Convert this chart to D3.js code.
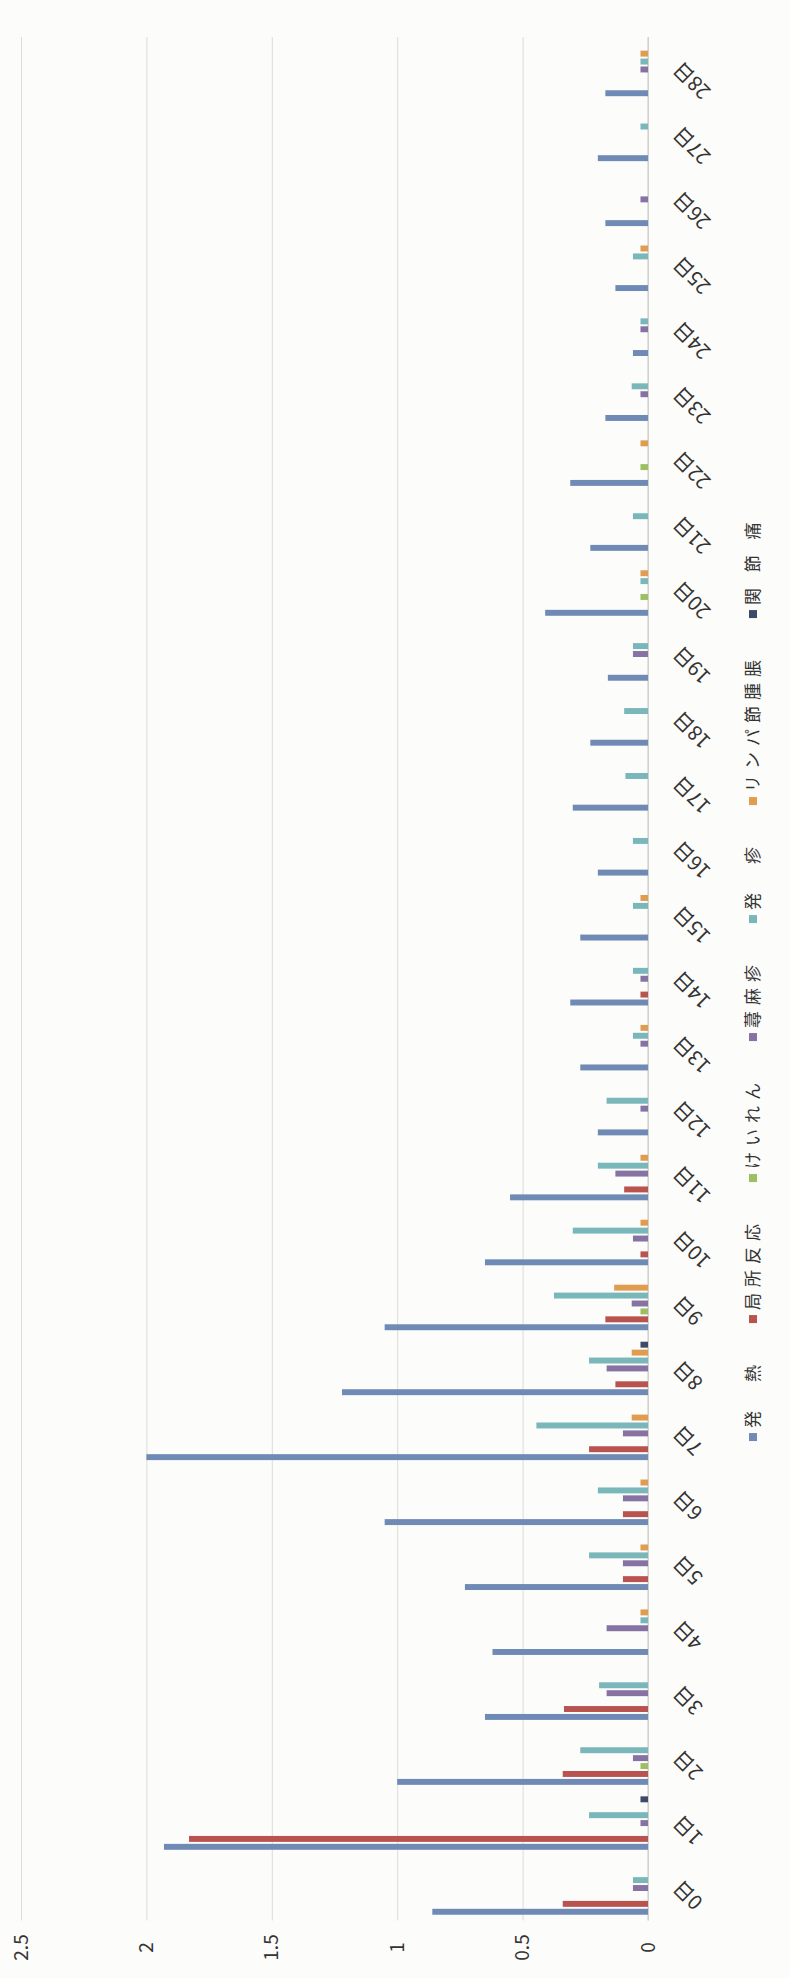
<!DOCTYPE html>
<html>
<head>
<meta charset="utf-8">
<script src="https://cdn.jsdelivr.net/npm/d3@7/dist/d3.min.js"></script>
<style>
  body { margin: 0; background: #fcfcfa; }
  text { font-family: "Noto Sans CJK JP", "Noto Sans", sans-serif; fill: #333; }
</style>
</head>
<body>
<svg id="chart"></svg>
<script>
// categories (days after vaccination)
const days = ["0日","1日","2日","3日","4日","5日","6日","7日","8日","9日",
  "10日","11日","12日","13日","14日","15日","16日","17日","18日","19日",
  "20日","21日","22日","23日","24日","25日","26日","27日","28日"];

const seriesNames = ["発　熱","局所反応","けいれん","蕁麻疹","発　疹","リンパ節腫脹","関 節 痛"];

// values
const fever     = [0.86,1.93,1.00,0.65,0.62,0.73,1.05,2.00,1.22,1.05,0.65,0.55,0.20,0.27,0.31,0.27,0.20,0.30,0.23,0.16,0.41,0.23,0.31,0.17,0.06,0.13,0.17,0.20,0.17];
const localReac = [0.34,1.83,0.34,0.335,0,0.10,0.10,0.235,0.13,0.17,0.03,0.095,0,0,0.03,0,0,0,0,0,0,0,0,0,0,0,0,0,0];
const seizure   = [0,0,0.03,0,0,0,0,0,0,0.03,0,0,0,0,0,0,0,0,0,0,0.03,0,0.03,0,0,0,0,0,0];
const hives     = [0.06,0.03,0.06,0.165,0.165,0.10,0.10,0.10,0.165,0.065,0.06,0.13,0.03,0.03,0.03,0,0,0,0,0.06,0,0,0,0.03,0.03,0,0.03,0,0.03];
const rash      = [0.06,0.235,0.27,0.195,0.03,0.235,0.20,0.445,0.235,0.375,0.30,0.20,0.165,0.06,0.06,0.06,0.06,0.09,0.095,0.06,0.03,0.06,0,0.065,0.03,0.06,0,0.03,0.03];
const lymph     = [0,0,0,0,0.03,0.03,0.03,0.065,0.065,0.135,0.03,0.03,0,0.03,0,0.03,0,0,0,0,0.03,0,0.03,0,0,0.03,0,0,0.03];
const jointPain = [0,0.03,0,0,0,0,0,0,0.03,0,0,0,0,0,0,0,0,0,0,0,0,0,0,0,0,0,0,0,0];

const yTicks = [0, 0.5, 1, 1.5, 2, 2.5];

const seriesValues = [fever, localReac, seizure, hives, rash, lymph, jointPain];
const colors = ["#6f8ab4","#b9534f","#9dbf63","#8672a3","#7ab7ba","#e09d52","#3d4b68"];

// the scanned page is turned a quarter to the left, so the chart is drawn
// in its own frame (wide) and rotated into the tall page
const pageW = 790, pageH = 1978;
const svg = d3.select('#chart')
    .attr('width', pageW)
    .attr('height', pageH);

svg.append('rect').attr('width', pageW).attr('height', pageH).attr('fill', '#fcfcfa');

const chart = svg.append('g')
    .attr('transform', `translate(0,${pageH}) rotate(-90)`);

const left = 57.5, right = 1941; // plot area in the chart frame
const x = d3.scaleBand()
    .domain(days)
    .range([left, right])
    .paddingInner(0.148)
    .paddingOuter(0.074);

const xs = d3.scaleBand()
    .domain(seriesNames)
    .range([0, x.bandwidth()])
    .paddingInner(0.25)
    .paddingOuter(0.12);

const y = d3.scaleLinear()
    .domain([0, 2.5])
    .range([648, 21]);

// gridlines + value labels
const yAxis = chart.append('g')
    .attr('transform', `translate(${left},0)`)
    .call(d3.axisLeft(y)
        .tickValues(yTicks)
        .tickSize(-(right - left))
        .tickFormat(d3.format('~g')));
yAxis.select('.domain').remove();
yAxis.selectAll('line').attr('stroke', '#dcdcd8').attr('stroke-width', 1);
yAxis.selectAll('text')
    .attr('x', -27)
    .attr('text-anchor', 'middle')
    .style('font-size', '19px')
    .style('fill', '#333');

// category axis line
chart.append('line')
    .attr('x1', left).attr('x2', right)
    .attr('y1', y(0)).attr('y2', y(0))
    .attr('stroke', '#c8c8c4');

// bars
const groups = chart.selectAll('.day')
    .data(days)
    .enter()
    .append('g')
    .attr('class', 'day')
    .attr('transform', d => `translate(${x(d)},0)`);

groups.selectAll('rect')
    .data((d, i) => seriesNames.map((s, k) => ({ s, k, v: seriesValues[k][i] })))
    .enter()
    .append('rect')
    .filter(d => d.v > 0)
    .attr('x', d => xs(d.s))
    .attr('width', xs.bandwidth())
    .attr('y', d => y(d.v))
    .attr('height', d => y(0) - y(d.v))
    .style('fill', d => colors[d.k]);

// day labels, slanted
chart.selectAll('.daylabel')
    .data(days)
    .enter()
    .append('text')
    .attr('class', 'daylabel')
    .attr('transform', d => `translate(${x(d) + x.bandwidth() / 2 + 4},${y(0) + 29}) rotate(-45)`)
    .attr('text-anchor', 'end')
    .attr('dy', '0.35em')
    .style('font-size', '20px')
    .text(d => d);

// legend, laid out from the text widths and centred under the plot
const legend = chart.append('g').attr('class', 'legend');
const items = legend.selectAll('g')
    .data(seriesNames)
    .enter()
    .append('g');
items.append('rect')
    .attr('width', 8).attr('height', 8)
    .attr('y', -4)
    .style('fill', (d, i) => colors[i]);
items.append('text')
    .attr('x', 13)
    .attr('dy', '0.35em')
    .style('font-size', '17px')
    .style('letter-spacing', '6px')
    .text(d => d);

let pos = 0;
const gap = 36;
items.each(function () {
    d3.select(this).attr('transform', `translate(${pos},0)`);
    pos += 13 + d3.select(this).select('text').node().getComputedTextLength() + gap;
});
const legendW = pos - gap;
legend.attr('transform', `translate(${(left + right) / 2 - legendW / 2},753)`);
</script>
</body>
</html>
